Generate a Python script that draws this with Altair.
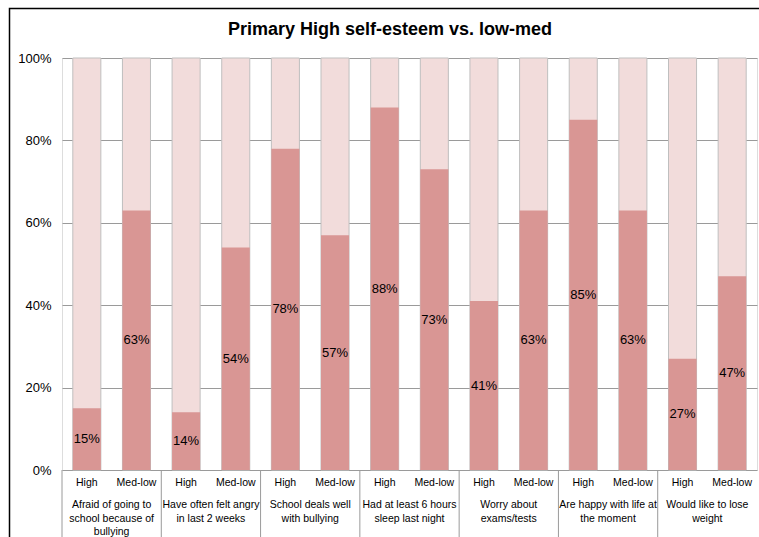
import altair as alt

# Survey categories (one group of bars each) and their wrapped axis captions
groups = [
    "Afraid of going to school because of bullying",
    "Have often felt angry in last 2 weeks",
    "School deals well with bullying",
    "Had at least 6 hours sleep last night",
    "Worry about exams/tests",
    "Are happy with life at the moment",
    "Would like to lose weight",
]
group_lines = [
    ["Afraid of going to", "school because of", "bullying"],
    ["Have often felt angry", "in last 2 weeks"],
    ["School deals well", "with bullying"],
    ["Had at least 6 hours", "sleep last night"],
    ["Worry about", "exams/tests"],
    ["Are happy with life at", "the moment"],
    ["Would like to lose", "weight"],
]
subgroups = ["High", "Med-low"]

# Percentage of pupils answering "yes", by self-esteem level
high_pct = [15, 14, 78, 88, 41, 85, 27]
medlow_pct = [63, 54, 57, 73, 63, 63, 47]

chart_title = "Primary High self-esteem vs. low-med"

rows = []
for i, g in enumerate(groups):
    for s, vals in zip(subgroups, [high_pct, medlow_pct]):
        rows.append({"group": g, "sub": s, "value": vals[i]})
bars_data = alt.Data(values=rows)
groups_data = alt.Data(values=[{"group": g, "lines": l} for g, l in zip(groups, group_lines)])

FONT = "Liberation Sans"
DARK = "#D99694"
LIGHT = "#F2DCDB"
GRID = "#9A9A9A"
W, H = 695, 412

x_enc = alt.X("group:N", sort=groups, axis=None,
              scale=alt.Scale(paddingInner=0, paddingOuter=0))
xo_enc = alt.XOffset("sub:N", sort=subgroups,
                     scale=alt.Scale(paddingInner=0.435, paddingOuter=0.2175))
y_axis = alt.Axis(values=[0, 20, 40, 60, 80, 100], labelExpr="datum.value + '%'",
                  domain=False, ticks=False, grid=True, gridColor=GRID,
                  gridWidth=1, labelFontSize=13, labelPadding=11,
                  labelColor="#000000", title=None)
y_scale = alt.Scale(domain=[0, 100], nice=False)

# Full-height pale bar (100%) behind each answer bar
back = alt.Chart(bars_data).transform_calculate(full="100").mark_bar(
    color=LIGHT, stroke="#BFBFBF", strokeWidth=1
).encode(x=x_enc, xOffset=xo_enc,
         y=alt.Y("full:Q", scale=y_scale, axis=y_axis))

front = alt.Chart(bars_data).mark_bar(color=DARK).encode(
    x=x_enc, xOffset=xo_enc,
    y=alt.Y("value:Q", scale=y_scale, axis=y_axis))

value_labels = alt.Chart(bars_data).transform_calculate(
    mid="datum.value / 2", label="datum.value + '%'"
).mark_text(font=FONT, fontSize=13, color="#000000", baseline="middle").encode(
    x=x_enc, xOffset=xo_enc,
    y=alt.Y("mid:Q", scale=y_scale, axis=y_axis),
    text="label:N")

sub_labels = alt.Chart(bars_data).mark_text(
    font=FONT, fontSize=10.5, color="#000000", baseline="middle"
).encode(x=x_enc, xOffset=xo_enc, y=alt.value(H + 13), text="sub:N")

group_labels = alt.Chart(groups_data).mark_text(
    font=FONT, fontSize=10.5, color="#000000", baseline="top", lineHeight=13.5
).encode(x=x_enc, y=alt.value(H + 30), text="lines:N")

separators = alt.Chart(groups_data).mark_rule(color=GRID, strokeWidth=1).encode(
    x=alt.X("group:N", sort=groups, axis=None, bandPosition=0,
            scale=alt.Scale(paddingInner=0, paddingOuter=0)),
    y=alt.value(H), y2=alt.value(H + 80))

# Chart title, centred over the whole chart area
title = alt.Chart(alt.Data(values=[{"t": chart_title}])).mark_text(
    font=FONT, fontSize=18, fontWeight="bold", color="#000000",
    align="center", baseline="middle"
).encode(x=alt.value(328), y=alt.value(-28), text="t:N")

# Outer chart border
frame = alt.Chart(alt.Data(values=[{}])).mark_rect(
    fillOpacity=0, stroke="#000000", strokeWidth=1.5
).encode(x=alt.value(-52.5), x2=alt.value(W + 80),
         y=alt.value(-49.5), y2=alt.value(H + 120))

chart = alt.layer(
    back, front, value_labels, sub_labels, group_labels, separators, title, frame
).properties(
    width=W, height=H,
    autosize=alt.AutoSizeParams(type="none"),
    padding={"left": 62, "top": 58, "right": 2, "bottom": 67},
).configure_view(strokeWidth=0).configure(font=FONT, background="white")

chart.save("out.html", embed_options={"renderer": "svg", "actions": False})
